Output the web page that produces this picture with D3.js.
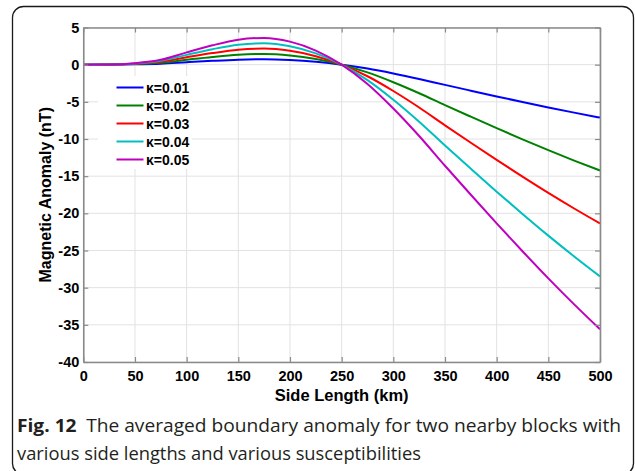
<!DOCTYPE html>
<html><head><meta charset="utf-8">
<script src="https://cdn.jsdelivr.net/npm/d3@7"></script>
<style>
html,body{margin:0;padding:0;background:#fff;}
svg{display:block;}
</style>
</head><body>
<svg id="chart" width="635" height="471"></svg>
<script>
// ---- data ----
const sideLength = [0,25,50,75,100,125,150,175,200,225,250,275,300,325,350,375,400,425,450,475,500];
const kappa001 = [0,0.005,0.04,0.13,0.33,0.52,0.67,0.72,0.62,0.38,0,-0.52,-1.18,-1.92,-2.72,-3.5,-4.27,-5.02,-5.75,-6.45,-7.12];
const kappa002 = [0,0.01,0.08,0.26,0.66,1.04,1.34,1.44,1.24,0.76,0,-1.04,-2.36,-3.84,-5.44,-7.0,-8.54,-10.04,-11.5,-12.9,-14.24];
const kappa003 = [0,0.015,0.12,0.39,0.99,1.56,2.01,2.16,1.86,1.14,0,-1.56,-3.54,-5.76,-8.16,-10.5,-12.81,-15.06,-17.25,-19.35,-21.36];
const kappa004 = [0,0.02,0.16,0.52,1.32,2.08,2.68,2.88,2.48,1.52,0,-2.08,-4.72,-7.68,-10.88,-14.0,-17.08,-20.08,-23.0,-25.8,-28.48];
const kappa005 = [0,0.025,0.2,0.65,1.65,2.6,3.35,3.6,3.1,1.9,0,-2.6,-5.9,-9.6,-13.6,-17.5,-21.35,-25.1,-28.75,-32.25,-35.6];
const seriesLabels = ["\u03BA=0.01","\u03BA=0.02","\u03BA=0.03","\u03BA=0.04","\u03BA=0.05"];
const xTicks = [0,50,100,150,200,250,300,350,400,450,500];
const yTicks = [5,0,-5,-10,-15,-20,-25,-30,-35,-40];
const xLabel = "Side Length (km)";
const yLabel = "Magnetic Anomaly (nT)";
const captionBold = "Fig. 12";
const captionLine1 = "The averaged boundary anomaly for two nearby blocks with";
const captionLine2 = "various side lengths and various susceptibilities";

const seriesValues = [kappa001,kappa002,kappa003,kappa004,kappa005];
const colors = ["#0000ff","#008000","#ff0000","#00bfbf","#bf00bf"];

const svg = d3.select("#chart");
// frame
svg.append("rect").attr("x",12.5).attr("y",6.5).attr("width",621).attr("height",468)
  .attr("rx",11).attr("fill","#fff").attr("stroke","#1a1a1a").attr("stroke-width",1.3);

const L=83.3, R=600, T=27.5, B=362;
const x = d3.scaleLinear().domain([0,500]).range([L,R]);
const y = d3.scaleLinear().domain([-40,5]).range([B,T]);

// grid
const g = svg.append("g");
g.selectAll(".gx").data(xTicks).join("line")
  .attr("x1",d=>x(d)).attr("x2",d=>x(d)).attr("y1",T).attr("y2",B)
  .attr("stroke","#e2e2e2").attr("stroke-width",1);
g.selectAll(".gy").data(yTicks).join("line")
  .attr("x1",L).attr("x2",R).attr("y1",d=>y(d)).attr("y2",d=>y(d))
  .attr("stroke","#e2e2e2").attr("stroke-width",1);

// lines
const line = d3.line().x((d,i)=>x(sideLength[i])).y(d=>y(d)).curve(d3.curveMonotoneX);
svg.append("g").selectAll("path").data(seriesValues).join("path")
  .attr("d",d=>line(d)).attr("fill","none")
  .attr("stroke",(d,i)=>colors[i]).attr("stroke-width",2);

// axes (box with inward ticks)
const axisColor = "#8a8a8a";
const fmt = d => String(d);
function styleAxis(sel){
  sel.select(".domain").attr("stroke",axisColor).attr("stroke-width",1.6);
  sel.selectAll(".tick line").attr("stroke",axisColor).attr("stroke-width",1.2);
  sel.selectAll(".tick text").attr("fill","#000")
    .style("font-family","Arial, 'Liberation Sans', sans-serif").style("font-weight","bold").style("font-size","14.5px");
}
const xb = svg.append("g").attr("transform",`translate(0,${B})`)
  .call(d3.axisBottom(x).tickValues(xTicks).tickFormat(fmt).tickSize(-5).tickPadding(5).tickSizeOuter(0));
styleAxis(xb);
xb.selectAll(".tick text").attr("dy","0.95em");
const xt = svg.append("g").attr("transform",`translate(0,${T})`)
  .call(d3.axisTop(x).tickValues(xTicks).tickSize(-5).tickFormat("").tickSizeOuter(0));
styleAxis(xt);
const yl = svg.append("g").attr("transform",`translate(${L},0)`)
  .call(d3.axisLeft(y).tickValues(yTicks).tickFormat(fmt).tickSize(-5).tickPadding(4).tickSizeOuter(0));
styleAxis(yl);
const yr = svg.append("g").attr("transform",`translate(${R},0)`)
  .call(d3.axisRight(y).tickValues(yTicks).tickSize(-5).tickFormat("").tickSizeOuter(0));
styleAxis(yr);

// axis labels
svg.append("text").attr("x",(L+R)/2).attr("y",401).attr("text-anchor","middle")
  .style("font-family","Arial, 'Liberation Sans', sans-serif").style("font-weight","bold").style("font-size","16.5px")
  .text(xLabel);
svg.append("text").attr("transform",`translate(51,${(T+B)/2}) rotate(-90)`).attr("text-anchor","middle")
  .style("font-family","Arial, 'Liberation Sans', sans-serif").style("font-weight","bold").style("font-size","16px")
  .text(yLabel);

// legend
const leg = svg.append("g");
leg.append("rect").attr("x",98).attr("y",76).attr("width",94).attr("height",93).attr("fill","#fff");
const items = leg.selectAll("g").data(seriesLabels).join("g")
  .attr("transform",(d,i)=>`translate(0,${87.5+i*18})`);
items.append("line").attr("x1",116.5).attr("x2",143.5).attr("y1",0).attr("y2",0)
  .attr("stroke",(d,i)=>colors[i]).attr("stroke-width",2);
items.append("text").attr("x",146).attr("y",0).attr("dy","0.36em")
  .style("font-family","Arial, 'Liberation Sans', sans-serif").style("font-weight","bold").style("font-size","14px")
  .text(d=>d);

// caption
const cap1 = svg.append("text").attr("x",17).attr("y",432)
  .attr("textLength",604).attr("lengthAdjust","spacingAndGlyphs")
  .style("font-family","'Open Sans', 'Noto Sans', sans-serif").style("font-size","18.5px").attr("fill","#231f20");
cap1.append("tspan").style("font-weight","bold").text(captionBold);
cap1.append("tspan").text("\u2002" + captionLine1);
svg.append("text").attr("x",17).attr("y",460)
  .attr("textLength",404).attr("lengthAdjust","spacingAndGlyphs")
  .style("font-family","'Open Sans', 'Noto Sans', sans-serif").style("font-size","18.5px").attr("fill","#231f20")
  .text(captionLine2);
</script>
</body></html>
